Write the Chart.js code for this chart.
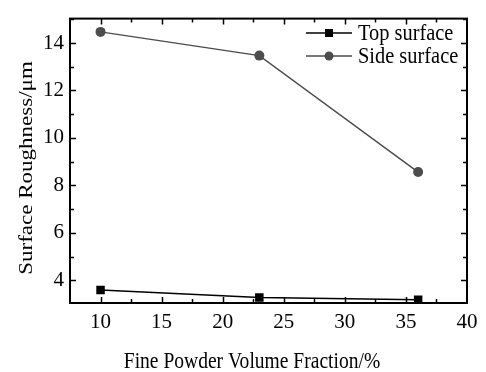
<!DOCTYPE html>
<html>
<head>
<meta charset="utf-8">
<script src="https://cdn.jsdelivr.net/npm/chart.js@4/dist/chart.umd.min.js"></script>
<style>
  html, body { margin: 0; padding: 0; background: #fff; }
  #wrap { width: 486px; height: 372px; position: relative; }
</style>
</head>
<body>
<div id="wrap"><canvas id="chart"></canvas></div>
<script>
const fractions = [10, 23, 36]
const topSurface = [3.59, 3.27, 3.18]
const sideSurface = [14.47, 13.47, 8.56]
const xTickValues = [10, 15, 20, 25, 30, 35, 40]
const yTickValues = [4, 6, 8, 10, 12, 14]
const xTitle = "Fine Powder Volume Fraction/%"
const yTitle = "Surface Roughness/μm"

const serif = "'Liberation Serif', 'Times New Roman', serif"
const sideGray = "#4d4d4d"
const squeeze = 0.85 // the original figure is a bit narrower than tall

// ticks pointing inward on all four sides, majors + minors
const frameTicks = {
  id: "frameTicks",
  afterDatasetsDraw(chart) {
    const { ctx, chartArea: a, scales: { x, y } } = chart
    ctx.save()
    ctx.strokeStyle = "#000"
    ctx.lineWidth = 1.5
    ctx.beginPath()
    for (let v = x.min + 2.5; v < x.max; v += 2.5) {
      const px = Math.round(x.getPixelForValue(v)) + 0.5
      const len = v % 5 === 0 ? 6 : 4
      ctx.moveTo(px, a.bottom); ctx.lineTo(px, a.bottom - len)
      ctx.moveTo(px, a.top); ctx.lineTo(px, a.top + len)
    }
    for (let v = Math.ceil(y.min); v < y.max; v += 1) {
      const py = Math.round(y.getPixelForValue(v)) + 0.5
      const len = v % 2 === 0 ? 6 : 4
      ctx.moveTo(a.left, py); ctx.lineTo(a.left + len, py)
      ctx.moveTo(a.right, py); ctx.lineTo(a.right - len, py)
    }
    ctx.stroke()
    ctx.lineWidth = 2
    ctx.strokeRect(a.left, a.top, a.right - a.left, a.bottom - a.top)
    ctx.restore()
  }
}

// axis titles, slightly condensed like the source figure
const axisTitles = {
  id: "axisTitles",
  afterDraw(chart) {
    const { ctx } = chart
    ctx.save()
    ctx.fillStyle = "#000"
    ctx.font = "23px " + serif
    ctx.textAlign = "center"
    ctx.textBaseline = "alphabetic"
    ctx.save()
    ctx.translate(252, 368)
    ctx.scale(squeeze, 1)
    ctx.fillText(xTitle, 0, 0)
    ctx.restore()
    ctx.translate(27, 168)
    ctx.scale(squeeze, 1)
    ctx.rotate(-Math.PI / 2)
    ctx.textBaseline = "middle"
    ctx.fillText(yTitle, 0, 0)
    ctx.restore()
  }
}

// legend drawn inside the plot, top right
const innerLegend = {
  id: "innerLegend",
  afterDraw(chart) {
    const { ctx } = chart
    ctx.save()
    ctx.font = "24px " + serif
    ctx.textBaseline = "middle"
    chart.data.datasets.forEach((ds, i) => {
      const yy = 33 + i * 23
      ctx.strokeStyle = ds.borderColor
      ctx.lineWidth = 1.5
      ctx.beginPath(); ctx.moveTo(306, yy); ctx.lineTo(352, yy); ctx.stroke()
      ctx.fillStyle = ds.pointBackgroundColor
      if (ds.pointStyle === "rect") ctx.fillRect(325, yy - 4, 8, 8)
      else { ctx.beginPath(); ctx.arc(329, yy, 4.5, 0, Math.PI * 2); ctx.fill() }
      ctx.fillStyle = "#000"
      ctx.save()
      ctx.translate(358, yy + 1)
      ctx.scale(squeeze, 1)
      ctx.fillText(ds.label, 0, 0)
      ctx.restore()
    })
    ctx.restore()
  }
}

new Chart(document.getElementById("chart"), {
  type: "line",
  data: {
    datasets: [
      {
        label: "Top surface",
        data: fractions.map((f, i) => ({ x: f, y: topSurface[i] })),
        borderColor: "#000",
        pointBackgroundColor: "#000",
        pointBorderColor: "#000",
        pointStyle: "rect",
        pointRadius: 6,
        pointBorderWidth: 0,
        borderWidth: 1.5,
        tension: 0
      },
      {
        label: "Side surface",
        data: fractions.map((f, i) => ({ x: f, y: sideSurface[i] })),
        borderColor: sideGray,
        pointBackgroundColor: sideGray,
        pointBorderColor: sideGray,
        pointStyle: "circle",
        pointRadius: 5,
        pointBorderWidth: 0,
        borderWidth: 1.5,
        tension: 0
      }
    ]
  },
  options: {
    responsive: true,
    maintainAspectRatio: false,
    animation: false,
    layout: { padding: { top: 11, right: 19, left: 0, bottom: 0 } },
    plugins: { legend: { display: false }, tooltip: { enabled: false } },
    scales: {
      x: {
        type: "linear",
        min: 7.5,
        max: 40,
        afterBuildTicks: s => { s.ticks = xTickValues.map(v => ({ value: v })) },
        afterFit: s => { s.height = 69 },
        grid: { display: false, drawTicks: false },
        border: { display: false },
        ticks: { color: "#000", padding: 7, maxRotation: 0, font: { family: serif, size: 21 } },
        title: { display: false }
      },
      y: {
        min: 3.04,
        max: 15.03,
        afterBuildTicks: s => { s.ticks = yTickValues.map(v => ({ value: v })) },
        afterFit: s => { s.width = 70 },
        grid: { display: false, drawTicks: false },
        border: { display: false },
        ticks: { color: "#000", padding: 6, font: { family: serif, size: 21 } },
        title: { display: false }
      }
    }
  },
  plugins: [frameTicks, axisTitles, innerLegend]
})
</script>
</body>
</html>
